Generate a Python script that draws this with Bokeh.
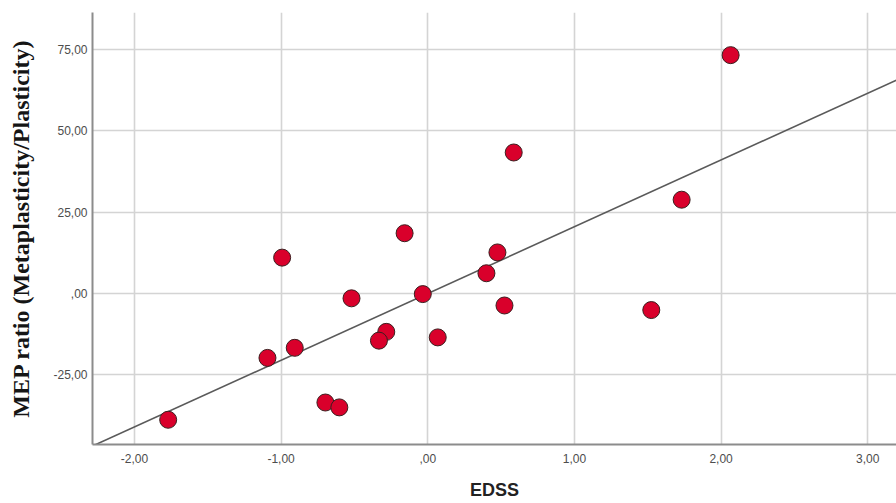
from bokeh.plotting import figure
from bokeh.models import Range1d, FixedTicker
from bokeh.embed import file_html
from bokeh.resources import INLINE

# Data
edss = [2.065, 0.586, 1.731, -0.158, -0.993, 0.475, 0.40, -0.034, -0.52, 0.523,
        1.524, -0.283, -0.333, 0.068, -0.907, -1.093, -0.698, -0.603, -1.770]
mep_ratio = [73.2, 43.3, 28.8, 18.5, 11.0, 12.6, 6.2, -0.2, -1.5, -3.7,
             -5.1, -11.8, -14.5, -13.5, -16.7, -19.8, -33.5, -35.0, -38.8]

fit_intercept = 0.0
fit_slope = 20.5

x_ticks = [-2, -1, 0, 1, 2, 3]
x_tick_labels = ["-2,00", "-1,00", ",00", "1,00", "2,00", "3,00"]
y_ticks = [-25, 0, 25, 50, 75]
y_tick_labels = ["-25,00", ",00", "25,00", "50,00", "75,00"]

x_min, x_max = -2.286, 3.196
y_min, y_max = -46.4, 86.3

p = figure(width=896, height=503, output_backend="svg", toolbar_location=None,
           x_range=Range1d(x_min, x_max), y_range=Range1d(y_min, y_max),
           min_border_left=92, min_border_top=12, min_border_bottom=59,
           min_border_right=0)
p.outline_line_color = None
p.background_fill_color = "white"

# grid
for g in (p.xgrid, p.ygrid):
    g.grid_line_color = "#d4d4d4"
    g.grid_line_width = 1.6
p.xgrid.ticker = FixedTicker(ticks=x_ticks)
p.ygrid.ticker = FixedTicker(ticks=y_ticks)

# axes
p.xaxis.ticker = FixedTicker(ticks=x_ticks)
p.yaxis.ticker = FixedTicker(ticks=y_ticks)
p.xaxis.major_label_overrides = {t: l for t, l in zip(x_ticks, x_tick_labels)}
p.yaxis.major_label_overrides = {t: l for t, l in zip(y_ticks, y_tick_labels)}
for ax in (p.xaxis, p.yaxis):
    ax.axis_line_color = "#8c8c8c"
    ax.axis_line_width = 2
    ax.major_tick_line_color = None
    ax.minor_tick_line_color = None
    ax.major_tick_out = 0
    ax.major_tick_in = 0
    ax.major_label_text_font = "Liberation Sans"
    ax.major_label_text_font_size = "12px"
    ax.major_label_text_color = "#4d4d4d"
p.xaxis.major_label_standoff = 9
p.yaxis.major_label_standoff = 5

p.xaxis.axis_label = "EDSS"
p.xaxis.axis_label_text_font = "Liberation Sans"
p.xaxis.axis_label_text_font_size = "18px"
p.xaxis.axis_label_text_font_style = "bold"
p.xaxis.axis_label_text_color = "#222222"
p.xaxis.axis_label_standoff = 14

p.yaxis.axis_label = "MEP ratio (Metaplasticity/Plasticity)"
p.yaxis.axis_label_text_font = "Liberation Serif"
p.yaxis.axis_label_text_font_size = "24px"
p.yaxis.axis_label_text_font_style = "bold"
p.yaxis.axis_label_text_color = "#151515"
p.yaxis.axis_label_standoff = 16

# fit line
line_x = [x_min, x_max]
line_y = [fit_intercept + fit_slope * v for v in line_x]
p.line(line_x, line_y, line_color="#5a5a5a", line_width=1.6)

# points
p.scatter(edss, mep_ratio, size=17, fill_color="#d9002b", line_color="#3a1f1f",
          line_width=1)

open("out.html", "w").write(file_html(p, INLINE))
